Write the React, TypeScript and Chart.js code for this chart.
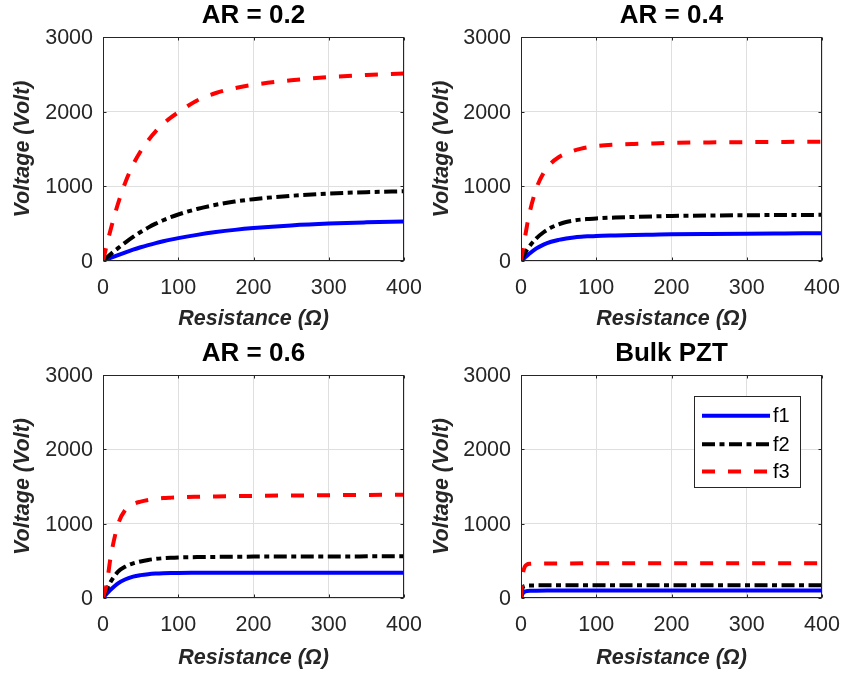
import React, { useEffect, useRef } from 'react';
import { Chart, registerables } from 'chart.js';

Chart.register(...registerables);

// ---------------- data ----------------
const TITLES = ['AR = 0.2', 'AR = 0.4', 'AR = 0.6', 'Bulk PZT'];
const SERIES_LABELS = ['f1', 'f2', 'f3'];
const X_LABEL = 'Resistance (Ω)';
const Y_LABEL = 'Voltage (Volt)';
const X_MIN = 0;
const X_MAX = 400;
const X_STEP = 100;
const Y_MIN = 0;
const Y_MAX = 3000;
const Y_STEP = 1000;

const RES_AR = [0, 5, 10, 20, 30, 40, 50, 60, 70, 80, 90, 100, 125, 150, 175, 200, 250, 300, 350, 400];
const RES_BULK = [0, 1, 2, 3, 5, 8, 12, 20, 40, 100, 200, 300, 400];

const AR02_F1 = [0, 21, 41, 80, 117, 152, 184, 213, 240, 264, 286, 306, 350, 387, 417, 441, 477, 502, 518, 530];
const AR02_F2 = [0, 46, 90, 172, 250, 322, 388, 447, 500, 546, 587, 623, 697, 753, 796, 828, 873, 903, 922, 934];
const AR02_F3 = [0, 215, 415, 770, 1060, 1290, 1470, 1615, 1735, 1835, 1920, 1990, 2150, 2250, 2315, 2360, 2420, 2463, 2492, 2512];

const AR04_F1 = [0, 45, 88, 165, 220, 258, 283, 302, 316, 325, 331, 336, 343, 349, 353, 357, 362, 366, 369, 372];
const AR04_F2 = [0, 100, 180, 300, 385, 448, 490, 522, 542, 555, 563, 570, 582, 590, 597, 603, 609, 613, 616, 618];
const AR04_F3 = [0, 300, 580, 960, 1180, 1310, 1390, 1440, 1478, 1505, 1525, 1540, 1558, 1568, 1575, 1582, 1588, 1592, 1595, 1597];

const AR06_F1 = [0, 58, 110, 198, 252, 288, 308, 321, 329, 334, 337, 338, 339, 340, 340, 340, 341, 341, 341, 341];
const AR06_F2 = [0, 115, 215, 355, 425, 465, 492, 512, 526, 535, 541, 545, 550, 553, 555, 557, 558, 559, 560, 560];
const AR06_F3 = [0, 190, 540, 990, 1190, 1262, 1296, 1318, 1334, 1344, 1350, 1355, 1362, 1367, 1371, 1374, 1379, 1383, 1387, 1390];

const BULK_F1 = [0, 30, 55, 70, 85, 93, 97, 99, 100, 101, 101, 102, 102];
const BULK_F2 = [0, 80, 130, 150, 162, 167, 169, 170, 171, 172, 172, 172, 172];
const BULK_F3 = [0, 140, 270, 350, 420, 450, 460, 463, 465, 466, 467, 468, 468];

// ---------------- styles / layout ----------------
const FONT = "'Liberation Sans', Arial, Helvetica, sans-serif";
const AXIS_COLOR = '#262626';
const GRID_COLOR = '#dfdfdf';
const SERIES_STYLE = [
  { color: '#0000ff', dash: [] as number[] },
  { color: '#000000', dash: [13, 4.5, 5, 4.5] },
  { color: '#ff0000', dash: [13, 13] },
];
const CANVAS_W = 421;
const CANVAS_H = 339;

type PanelCfg = {
  title: string;
  res: number[];
  series: number[][];
  left: number;
  top: number;
  yw: number;
  rp: number;
  th: number;
  tc: number;
  xh: number;
  ytPad: number;
  legend: boolean;
};

const PANELS: PanelCfg[] = [
  { title: TITLES[0], res: RES_AR, series: [AR02_F1, AR02_F2, AR02_F3], left: 0, top: 0, yw: 103, rp: 17, th: 37, tc: 15.8, xh: 78, ytPad: 10.4, legend: false },
  { title: TITLES[1], res: RES_AR, series: [AR04_F1, AR04_F2, AR04_F3], left: 421, top: 0, yw: 100, rp: 20, th: 37, tc: 15.8, xh: 78, ytPad: 7.8, legend: false },
  { title: TITLES[2], res: RES_AR, series: [AR06_F1, AR06_F2, AR06_F3], left: 0, top: 339, yw: 103, rp: 17, th: 36, tc: 15.2, xh: 80, ytPad: 10.4, legend: false },
  { title: TITLES[3], res: RES_BULK, series: [BULK_F1, BULK_F2, BULK_F3], left: 421, top: 339, yw: 100, rp: 20, th: 36, tc: 15.2, xh: 80, ytPad: 7.8, legend: true },
];

const TITLE_SIZE = 26;
const TICK_SIZE = 21.5;
const AXIS_TITLE_SIZE = 21.5;

const boxPlugin = {
  id: 'matlabBox',
  afterDatasetsDraw(chart: any) {
    const { ctx, chartArea: a, scales } = chart;
    const L = Math.round(a.left) + 0.5;
    const R = Math.round(a.right) - 0.5;
    const T = Math.round(a.top) + 0.5;
    const B = Math.round(a.bottom) - 0.5;
    ctx.save();
    ctx.strokeStyle = AXIS_COLOR;
    ctx.lineWidth = 1;
    ctx.setLineDash([]);
    ctx.strokeRect(L, T, R - L, B - T);
    const tl = 3;
    ctx.beginPath();
    scales.x.ticks.forEach((t: any) => {
      const px = Math.round(scales.x.getPixelForValue(t.value)) + 0.5;
      ctx.moveTo(px, B);
      ctx.lineTo(px, B - tl);
      ctx.moveTo(px, T);
      ctx.lineTo(px, T + tl);
    });
    scales.y.ticks.forEach((t: any) => {
      const py = Math.round(scales.y.getPixelForValue(t.value)) + 0.5;
      ctx.moveTo(L, py);
      ctx.lineTo(L + tl, py);
      ctx.moveTo(R, py);
      ctx.lineTo(R - tl, py);
    });
    ctx.stroke();
    ctx.restore();
  },
};

const legendBoxPlugin = {
  id: 'insideLegend',
  afterDraw(chart: any, _args: any, opts: any) {
    if (!opts || !opts.show) return;
    const { ctx, chartArea: a } = chart;
    const w = 106;
    const h = 91;
    const x0 = Math.round(a.right - 22 - w) + 0.5;
    const y0 = Math.round(a.top + 21) + 0.5;
    ctx.save();
    ctx.fillStyle = '#ffffff';
    ctx.fillRect(x0, y0, w, h);
    ctx.strokeStyle = AXIS_COLOR;
    ctx.lineWidth = 1;
    ctx.setLineDash([]);
    ctx.strokeRect(x0, y0, w, h);
    const rows = [19.3, 47.7, 75];
    chart.data.datasets.forEach((ds: any, i: number) => {
      const y = y0 + rows[i];
      ctx.beginPath();
      ctx.setLineDash(ds.borderDash || []);
      ctx.strokeStyle = ds.borderColor;
      ctx.lineWidth = ds.borderWidth;
      ctx.lineCap = 'butt';
      ctx.moveTo(x0 + 7.5, y);
      ctx.lineTo(x0 + 75.5, y);
      ctx.stroke();
      ctx.setLineDash([]);
      ctx.fillStyle = '#000000';
      ctx.font = `20px ${FONT}`;
      ctx.textAlign = 'left';
      ctx.textBaseline = 'middle';
      ctx.fillText(ds.label, x0 + 78.5, y + 1);
    });
    ctx.restore();
  },
};

function Panel({ cfg }: { cfg: PanelCfg }) {
  const ref = useRef<HTMLCanvasElement | null>(null);
  useEffect(() => {
    if (!ref.current) return;
    const titleLH = TITLE_SIZE * 1.2;
    const tPadTop = cfg.tc - titleLH / 2;
    const tPadBottom = cfg.th - titleLH - tPadTop;
    const datasets = cfg.series.map((vals, i) => ({
      label: SERIES_LABELS[i],
      data: cfg.res.map((x, j) => ({ x, y: vals[j] })),
      borderColor: SERIES_STYLE[i].color,
      backgroundColor: SERIES_STYLE[i].color,
      borderDash: SERIES_STYLE[i].dash,
      borderWidth: 4,
      pointRadius: 0,
      fill: false,
      cubicInterpolationMode: 'monotone' as const,
      order: 2 - i,
    }));
    const chart = new Chart(ref.current, {
      type: 'line',
      data: { datasets },
      options: {
        responsive: false,
        animation: false,
        devicePixelRatio: 1,
        layout: { padding: { left: 0, right: cfg.rp, top: 0, bottom: 0 } },
        plugins: {
          legend: { display: false },
          tooltip: { enabled: false },
          title: {
            display: true,
            text: cfg.title,
            fullSize: false,
            color: '#000000',
            font: { family: FONT, size: TITLE_SIZE, weight: 'bold', lineHeight: 1.2 },
            padding: { top: tPadTop, bottom: tPadBottom },
          },
          insideLegend: { show: cfg.legend },
        } as any,
        scales: {
          x: {
            type: 'linear',
            min: X_MIN,
            max: X_MAX,
            ticks: {
              stepSize: X_STEP,
              color: AXIS_COLOR,
              font: { family: FONT, size: TICK_SIZE },
              padding: 14,
              maxRotation: 0,
              autoSkip: false,
              callback: (v: any) => String(v),
            },
            grid: { color: GRID_COLOR, drawTicks: false, lineWidth: 1 },
            border: { display: false },
            title: {
              display: true,
              text: X_LABEL,
              color: AXIS_COLOR,
              font: { family: FONT, size: AXIS_TITLE_SIZE, weight: 'bold', style: 'italic', lineHeight: 1.2 },
              padding: { top: 0, bottom: 7 },
            },
            afterFit: (s: any) => {
              s.height = cfg.xh;
              s.paddingLeft = 0;
              s.paddingRight = 0;
            },
          },
          y: {
            type: 'linear',
            min: Y_MIN,
            max: Y_MAX,
            ticks: {
              stepSize: Y_STEP,
              color: AXIS_COLOR,
              font: { family: FONT, size: TICK_SIZE },
              padding: 10,
              labelOffset: 1,
              callback: (v: any) => String(v),
            },
            grid: { color: GRID_COLOR, drawTicks: false, lineWidth: 1 },
            border: { display: false },
            title: {
              display: true,
              text: Y_LABEL,
              color: AXIS_COLOR,
              font: { family: FONT, size: AXIS_TITLE_SIZE, weight: 'bold', style: 'italic', lineHeight: 1.2 },
              padding: { top: cfg.ytPad, bottom: 0 },
            },
            afterFit: (s: any) => {
              s.width = cfg.yw;
              s.paddingTop = 0;
              s.paddingBottom = 0;
            },
          },
        },
      } as any,
      plugins: [boxPlugin, legendBoxPlugin],
    });
    return () => chart.destroy();
  }, [cfg]);
  return (
    <canvas
      ref={ref}
      width={CANVAS_W}
      height={CANVAS_H}
      style={{ position: 'absolute', left: cfg.left, top: cfg.top, width: CANVAS_W, height: CANVAS_H }}
    />
  );
}

export default function App() {
  return (
    <div style={{ position: 'fixed', left: 0, top: 0, width: 842, height: 678, background: '#ffffff', overflow: 'hidden' }}>
      {PANELS.map((p, i) => (
        <Panel key={i} cfg={p} />
      ))}
    </div>
  );
}
